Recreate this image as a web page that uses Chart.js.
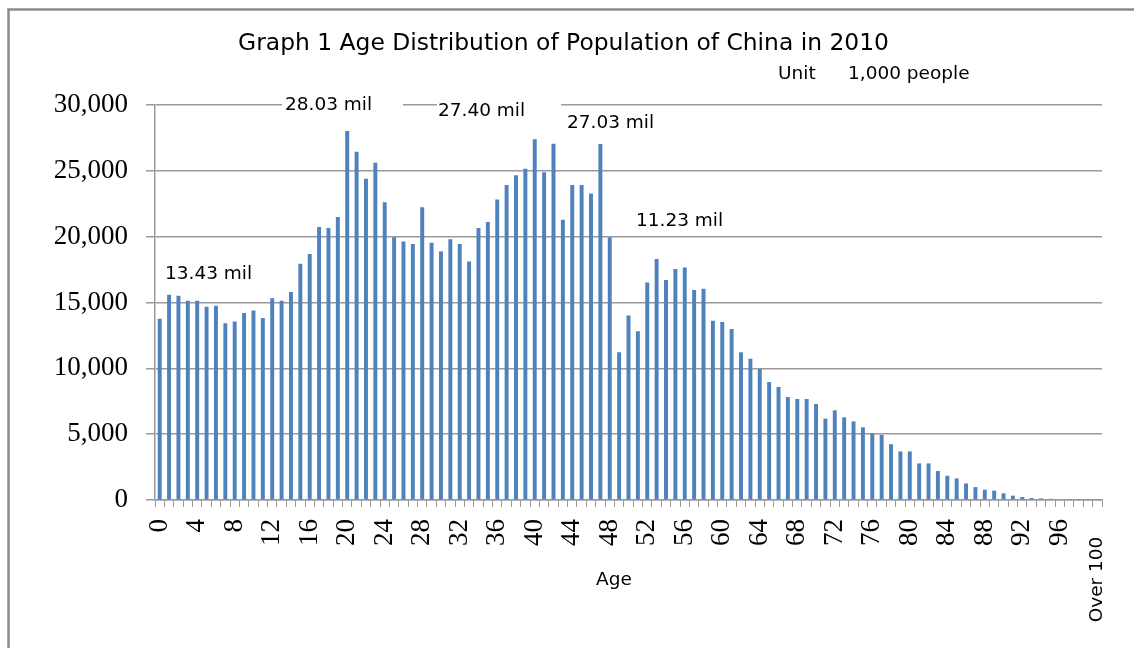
<!DOCTYPE html>
<html>
<head>
<meta charset="utf-8">
<script src="https://cdn.jsdelivr.net/npm/chart.js@4/dist/chart.umd.min.js"></script>
<style>
  html, body { margin: 0; padding: 0; background: #ffffff; }
  #wrap { width: 1134px; height: 648px; position: relative; }
</style>
</head>
<body>
<div id="wrap"><canvas id="chart" width="1134" height="648"></canvas></div>
<script>
// Age categories (single years, last one open-ended)
const ageLabels = [
  '0','1','2','3','4','5','6','7','8','9',
  '10','11','12','13','14','15','16','17','18','19',
  '20','21','22','23','24','25','26','27','28','29',
  '30','31','32','33','34','35','36','37','38','39',
  '40','41','42','43','44','45','46','47','48','49',
  '50','51','52','53','54','55','56','57','58','59',
  '60','61','62','63','64','65','66','67','68','69',
  '70','71','72','73','74','75','76','77','78','79',
  '80','81','82','83','84','85','86','87','88','89',
  '90','91','92','93','94','95','96','97','98','99',
  'Over 100'
];

// Population by age, unit: 1,000 people
const population = [
  13760, 15580, 15510, 15130, 15130, 14670, 14750, 13430, 13550, 14210,
  14390, 13830, 15330, 15130, 15790, 17940, 18680, 20740, 20660, 21500,
  28030, 26450, 24390, 25610, 22610, 19950, 19640, 19440, 22230, 19540,
  18880, 19800, 19440, 18120, 20660, 21120, 22820, 23930, 24670, 25150,
  27400, 24900, 27060, 21290, 23930, 23930, 23270, 27030, 19950, 11230,
  14010, 12820, 16510, 18300, 16710, 17540, 17650, 15950, 16050, 13620,
  13520, 12990, 11220, 10730,  9950,  8960,  8580,  7820,  7670,  7670,
   7290,  6180,  6810,  6280,  5970,  5520,  5060,  4950,  4240,  3690,
   3690,  2780,  2780,  2200,  1840,  1640,  1260,   980,   780,   710,
    510,   330,   230,   150,   120,    90,    60,    40,    30,    20,
     40
];

// Value axis ticks
const yMin = 0;
const yMax = 30000;
const yStep = 5000;

// Headline and callout texts
const titleText = 'Graph 1 Age Distribution of Population of China in 2010';
const unitLabel = 'Unit';
const unitText = '1,000 people';
const axisTitle = 'Age';
const callouts = [
  { text: '28.03 mil', x: 285, y: 110, box: [282, 96, 121, 19] },
  { text: '27.40 mil', x: 438, y: 116, box: [437, 98, 124, 20] },
  { text: '27.03 mil', x: 567, y: 128, box: null },
  { text: '13.43 mil', x: 165, y: 279, box: null },
  { text: '11.23 mil', x: 636, y: 226, box: null }
];

const sansFont = "'DejaVu Sans', 'Liberation Sans', sans-serif";
const serifFont = "'Liberation Serif', 'DejaVu Serif', serif";

// White sheet with the frame line
const framePlugin = {
  id: 'frame',
  beforeDraw(chart) {
    const ctx = chart.ctx;
    ctx.save();
    ctx.fillStyle = '#ffffff';
    ctx.fillRect(0, 0, chart.width, chart.height);
    ctx.strokeStyle = '#8a8a8a';
    ctx.lineWidth = 2.5;
    ctx.strokeRect(8.5, 9.5, chart.width + 40, chart.height + 40);
    ctx.restore();
  }
};

// Title, unit note, axis name and value callouts
const textPlugin = {
  id: 'texts',
  afterDraw(chart) {
    const ctx = chart.ctx;
    ctx.save();
    ctx.fillStyle = '#000000';
    ctx.textBaseline = 'alphabetic';

    ctx.font = '23.4px ' + sansFont;
    ctx.textAlign = 'center';
    ctx.fillText(titleText, 563.5, 50);

    ctx.textAlign = 'left';
    ctx.font = '18.5px ' + sansFont;
    ctx.fillText(unitLabel, 778, 79);
    ctx.fillText(unitText, 848, 79);
    ctx.fillText(axisTitle, 596, 585);

    callouts.forEach(c => {
      if (c.box) {
        ctx.fillStyle = '#ffffff';
        ctx.fillRect(c.box[0], c.box[1], c.box[2], c.box[3]);
      }
      ctx.fillStyle = '#000000';
      ctx.fillText(c.text, c.x, c.y);
    });
    ctx.restore();
  }
};

new Chart(document.getElementById('chart'), {
  type: 'bar',
  data: {
    labels: ageLabels,
    datasets: [{
      data: population,
      backgroundColor: '#4f81bd',
      borderWidth: 0,
      barPercentage: 0.42,
      categoryPercentage: 1.0
    }]
  },
  options: {
    responsive: false,
    animation: false,
    devicePixelRatio: 1,
    layout: { padding: { top: 105, right: 32, bottom: 0, left: 0 } },
    plugins: {
      legend: { display: false },
      title: { display: false },
      tooltip: { enabled: false }
    },
    scales: {
      x: {
        offset: true,
        grid: {
          display: true,
          drawOnChartArea: false,
          drawTicks: true,
          tickLength: 7,
          color: '#9a9a9a',
          lineWidth: 1,
          offset: true
        },
        border: { display: true, color: '#9a9a9a', width: 1.5 },
        ticks: {
          autoSkip: false,
          minRotation: 90,
          maxRotation: 90,
          padding: 12,
          color: '#000000',
          font: (ctx) => ctx.index === ageLabels.length - 1
            ? { family: sansFont, size: 18.5 }
            : { family: serifFont, size: 27 },
          callback: function (value, index) {
            if (index % 4 !== 0) return '';
            const lab = ageLabels[index];
            return index === ageLabels.length - 1 ? lab + '   ' : lab;
          }
        },
        afterFit(scale) { scale.height = 148; }
      },
      y: {
        min: yMin,
        max: yMax,
        grid: {
          color: '#9a9a9a',
          lineWidth: 1.5,
          drawTicks: true,
          tickLength: 9
        },
        border: { display: true, color: '#9a9a9a', width: 1.5 },
        ticks: {
          stepSize: yStep,
          padding: 18,
          color: '#000000',
          font: { family: serifFont, size: 27 },
          callback: (v) => Number(v).toLocaleString('en-US')
        },
        afterFit(scale) { scale.width = 155; }
      }
    }
  },
  plugins: [framePlugin, textPlugin]
});
</script>
</body>
</html>
